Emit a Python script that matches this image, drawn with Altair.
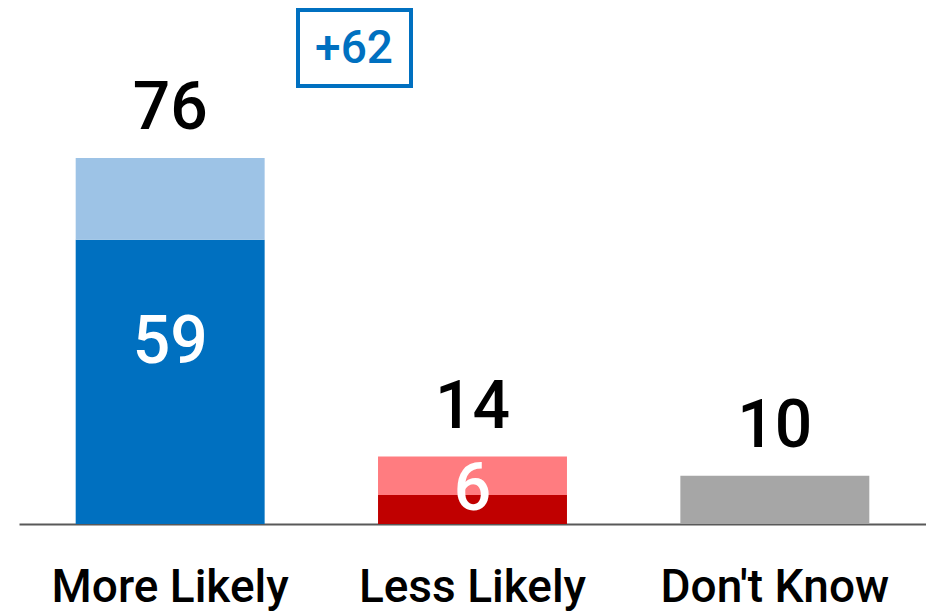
import altair as alt
import pandas as pd

categories = ["More Likely", "Less Likely", "Don't Know"]
strong = [59, 6, 10]          # lower (dark) segment
somewhat = [17, 8, 0]         # upper (light) segment
totals = [76, 14, 10]
net_label = "+62"

dark_colors = ["#0070C0", "#C00000", "#A6A6A6"]
light_colors = ["#9DC3E6", "#FF7C80", "#A6A6A6"]

FONT = "Roboto, DejaVu Sans"
WEIGHT = 500

rows = []
for i, c in enumerate(categories):
    rows.append({"cat": c, "key": c + " strong", "value": strong[i], "ord": 0})
    if somewhat[i] > 0:
        rows.append({"cat": c, "key": c + " somewhat", "value": somewhat[i], "ord": 1})
df = pd.DataFrame(rows)

keys = []
rng = []
for i, c in enumerate(categories):
    keys += [c + " strong", c + " somewhat"]
    rng += [dark_colors[i], light_colors[i]]

tot_df = pd.DataFrame({"cat": categories, "total": totals, "strong": strong})

x_enc = alt.X("cat:N", sort=categories, title=None,
              scale=alt.Scale(paddingInner=0.375, paddingOuter=0.1875),
              axis=alt.Axis(labelFont=FONT, labelFontSize=46, labelFontWeight=WEIGHT,
                            labelColor="black", labelLimit=600,
                            labelPadding=41, ticks=False, domainColor="#595959",
                            domainWidth=2, labelAngle=0))
y_scale = alt.Scale(domain=[0, 106.7], nice=False)

bars = alt.Chart(df).mark_bar().encode(
    x=x_enc,
    y=alt.Y("sum(value):Q", scale=y_scale, axis=None, stack="zero"),
    color=alt.Color("key:N", scale=alt.Scale(domain=keys, range=rng), legend=None),
    order=alt.Order("ord:Q"),
)

top_labels = alt.Chart(tot_df).mark_text(
    font=FONT, fontSize=66, fontWeight=WEIGHT, color="black", baseline="bottom", dy=-15
).encode(
    x=alt.X("cat:N", sort=categories),
    y=alt.Y("total:Q", scale=y_scale),
    text="total:Q",
)

lbl59 = alt.Chart(tot_df).transform_filter(alt.datum.cat == "More Likely").mark_text(
    font=FONT, fontSize=66, fontWeight=WEIGHT, color="white", baseline="middle", dy=103
).encode(
    x=alt.X("cat:N", sort=categories),
    y=alt.Y("strong:Q", scale=y_scale),
    text="strong:Q",
)

lbl6 = alt.Chart(tot_df).transform_filter(alt.datum.cat == "Less Likely").mark_text(
    font=FONT, fontSize=66, fontWeight=WEIGHT, color="white", baseline="middle", dy=-5
).encode(
    x=alt.X("cat:N", sort=categories),
    y=alt.Y("strong:Q", scale=y_scale),
    text="strong:Q",
)

ann_df = pd.DataFrame({"label": [net_label]})
box = alt.Chart(ann_df).mark_rect(
    fill="white", stroke="#0070C0", strokeWidth=4
).encode(x=alt.value(279), x2=alt.value(392), y=alt.value(0), y2=alt.value(76))
box_text = alt.Chart(ann_df).mark_text(
    font=FONT, fontSize=46, fontWeight=WEIGHT, color="#0070C0", baseline="middle", align="center"
).encode(x=alt.value(335), y=alt.value(39), text="label:N")

chart = alt.layer(bars, top_labels, lbl59, lbl6, box, box_text).properties(
    width=907, height=514,
    autosize=alt.AutoSizeParams(type="none"),
    padding={"left": 11, "top": 2, "right": 0, "bottom": 90},
).configure_view(stroke=None)

chart.save("out.html", embed_options={"renderer": "svg", "actions": False})
